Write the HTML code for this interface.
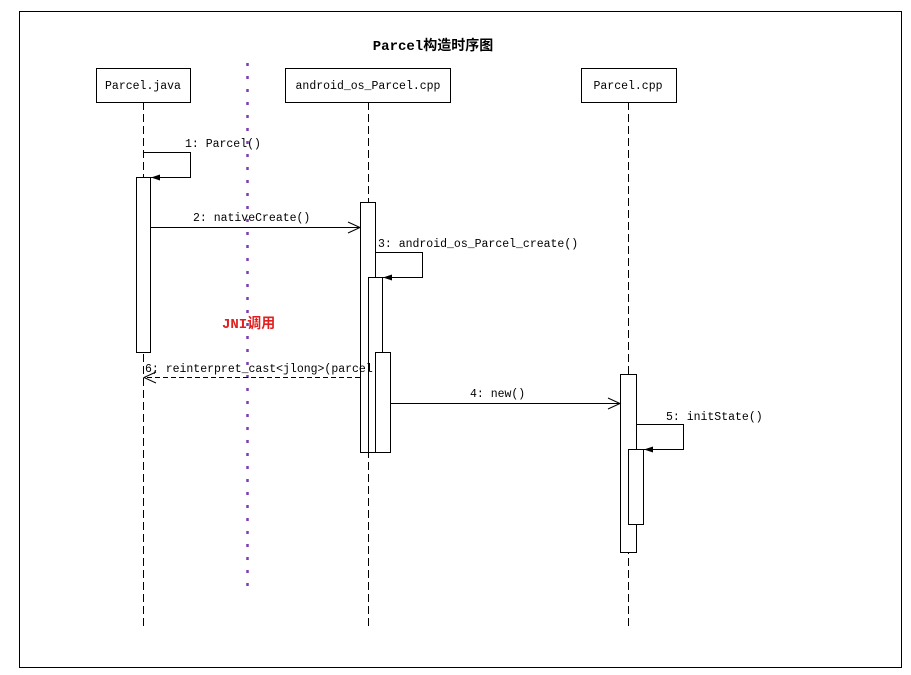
<!DOCTYPE html>
<html><head><meta charset="utf-8"><style>
html,body{margin:0;padding:0;background:#fff;}
svg{display:block;}
text{font-family:"Liberation Mono","Noto Sans CJK SC",monospace;font-size:11.5px;fill:#000;}
</style></head><body>
<svg width="911" height="675" xmlns="http://www.w3.org/2000/svg">
<defs>
<marker id="fill" markerWidth="10" markerHeight="8" refX="9" refY="4" orient="auto" markerUnits="userSpaceOnUse"><path d="M0,1 L9,4 L0,7 Z" fill="#000"/></marker>
</defs>
<rect x="19.5" y="11.5" width="882" height="656" fill="none" stroke="#000"/>
<text x="433" y="50" text-anchor="middle" style="font-size:14px;font-weight:bold;font-family:'Liberation Mono','Noto Sans CJK SC',monospace">Parcel构造时序图</text>
<line x1="247.5" y1="63" x2="247.5" y2="590" stroke="#7a3fb0" stroke-width="2.5" stroke-dasharray="3,10"/>
<g stroke="#000" stroke-dasharray="8,4" fill="none">
<line x1="143.5" y1="102" x2="143.5" y2="628"/>
<line x1="368.5" y1="102" x2="368.5" y2="628"/>
<line x1="628.5" y1="102" x2="628.5" y2="628"/>
</g>
<g fill="#fff" stroke="#000">
<rect x="96.5" y="68.5" width="94" height="34"/>
<rect x="285.5" y="68.5" width="165" height="34"/>
<rect x="581.5" y="68.5" width="95" height="34"/>
</g>
<text x="143" y="89" text-anchor="middle">Parcel.java</text>
<text x="368" y="89" text-anchor="middle">android_os_Parcel.cpp</text>
<text x="628" y="89" text-anchor="middle">Parcel.cpp</text>
<g fill="#fff" stroke="#000">
<rect x="136.5" y="177.5" width="14" height="175"/>
<rect x="360.5" y="202.5" width="15" height="250"/>
<rect x="368.5" y="277.5" width="14" height="175"/>
<rect x="375.5" y="352.5" width="15" height="100"/>
<rect x="620.5" y="374.5" width="16" height="178"/>
<rect x="628.5" y="449.5" width="15" height="75"/>
</g>
<g stroke="#000" fill="none">
<polyline points="143.5,152.5 190.5,152.5 190.5,177.5 151,177.5" marker-end="url(#fill)"/>
<line x1="150" y1="227.5" x2="360" y2="227.5"/>
<polyline points="348,222 360,227.5 348,233"/>
<polyline points="375.5,252.5 422.5,252.5 422.5,277.5 383,277.5" marker-end="url(#fill)"/>
<line x1="360" y1="377.5" x2="144" y2="377.5" stroke-dasharray="5,3"/>
<polyline points="156,372 144,377.5 156,383"/>
<line x1="390" y1="403.5" x2="620" y2="403.5"/>
<polyline points="608,398 620,403.5 608,409"/>
<polyline points="636.5,424.5 683.5,424.5 683.5,449.5 644,449.5" marker-end="url(#fill)"/>
</g>
<text x="185" y="147">1: Parcel()</text>
<text x="193" y="221">2: nativeCreate()</text>
<text x="378" y="247">3: android_os_Parcel_create()</text>
<text x="145" y="372">6; reinterpret_cast&lt;jlong&gt;(parcel</text>
<text x="470" y="397">4: new()</text>
<text x="666" y="420">5: initState()</text>
<text x="222" y="328" style="fill:#e02020;font-weight:bold;font-size:14px;font-family:'Liberation Mono','Noto Sans CJK SC',monospace">JNI调用</text>
</svg>
</body></html>
